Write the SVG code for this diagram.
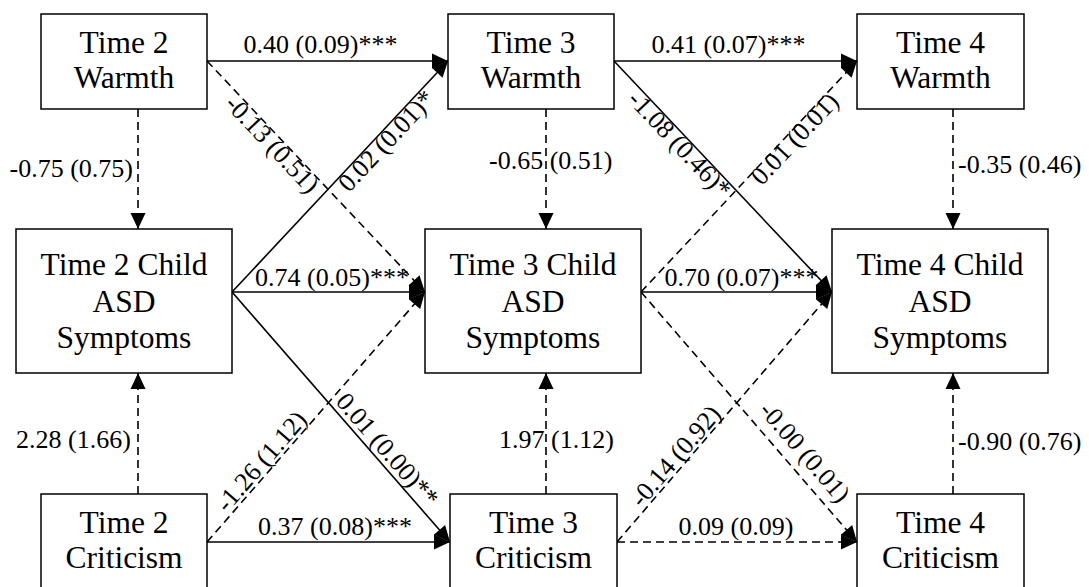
<svg xmlns="http://www.w3.org/2000/svg" width="1089" height="587" viewBox="0 0 1089 587">
<style>
.box{fill:#fff;stroke:#000;stroke-width:1.5}
.nt{font-family:"Liberation Serif","Times New Roman",serif;font-size:31.5px;fill:#000;text-anchor:middle}
.lb{font-family:"Liberation Serif","Times New Roman",serif;font-size:26px;fill:#000}
.c{text-anchor:middle}
.e{text-anchor:end}
.s{fill:none;stroke:#000;stroke-width:1.6;marker-end:url(#ah)}
.d{fill:none;stroke:#000;stroke-width:1.6;stroke-dasharray:8 5;marker-end:url(#ah)}
</style>
<defs>
<marker id="ah" markerUnits="userSpaceOnUse" markerWidth="17" markerHeight="16" refX="16" refY="8" orient="auto" overflow="visible">
<path d="M0,0.5 L16,8 L0,15.5 z" fill="#000"/>
</marker>
</defs>
<rect width="1089" height="587" fill="#fff"/>
<g id="connectors">
<line class="s" x1="207" y1="61" x2="448" y2="61"/>
<line class="d" x1="207" y1="61" x2="425" y2="292"/>
<line class="s" x1="232" y1="292" x2="448" y2="61"/>
<line class="s" x1="232" y1="292" x2="425" y2="292"/>
<line class="s" x1="232" y1="292" x2="450" y2="542"/>
<line class="d" x1="207" y1="542" x2="425" y2="292"/>
<line class="s" x1="207" y1="542" x2="450" y2="542"/>
<line class="s" x1="614" y1="61" x2="857" y2="61"/>
<line class="s" x1="614" y1="61" x2="832" y2="292"/>
<line class="d" x1="641" y1="292" x2="857" y2="61"/>
<line class="s" x1="641" y1="292" x2="832" y2="292"/>
<line class="d" x1="641" y1="292" x2="857" y2="542"/>
<line class="d" x1="617" y1="542" x2="832" y2="292"/>
<line class="d" x1="617" y1="542" x2="857" y2="542"/>
<line class="d" x1="138" y1="109" x2="138" y2="229"/>
<line class="d" x1="546" y1="109" x2="546" y2="229"/>
<line class="d" x1="953" y1="109" x2="953" y2="229"/>
<line class="d" x1="138" y1="494" x2="138" y2="373"/>
<line class="d" x1="546" y1="494" x2="546" y2="373"/>
<line class="d" x1="953" y1="494" x2="953" y2="373"/>
<text class="lb c" x="320.5" y="53">0.40 (0.09)***</text>
<text class="lb c" x="728.5" y="53">0.41 (0.07)***</text>
<text class="lb c" x="332" y="286">0.74 (0.05)***</text>
<text class="lb c" x="741.5" y="286">0.70 (0.07)***</text>
<text class="lb c" x="335" y="535">0.37 (0.08)***</text>
<text class="lb c" x="736" y="535">0.09 (0.09)</text>
<text class="lb e" x="133" y="177">-0.75 (0.75)</text>
<text class="lb" x="489" y="169">-0.65 (0.51)</text>
<text class="lb" x="958" y="173">-0.35 (0.46)</text>
<text class="lb" x="16" y="448">2.28 (1.66)</text>
<text class="lb" x="499" y="448">1.97 (1.12)</text>
<text class="lb" x="958" y="450">-0.90 (0.76)</text>
<text class="lb c" transform="translate(266,150) rotate(46.66)">-0.13 (0.51)</text>
<text class="lb c" transform="translate(392.6,146.6) rotate(-46.92)">0.02 (0.01)*</text>
<text class="lb c" transform="translate(673.4,150.1) rotate(46.66)">-1.08 (0.46)*</text>
<text class="lb c" transform="translate(800.9,144.5) rotate(-46.92)">0.01 (0.01)</text>
<text class="lb c" transform="translate(267.7,467) rotate(-48.92)">-1.26 (1.12)</text>
<text class="lb c" transform="translate(381,455.3) rotate(48.92)">0.01 (0.00)**</text>
<text class="lb c" transform="translate(682,461.6) rotate(-49.3)">-0.14 (0.92)</text>
<text class="lb c" transform="translate(798.4,457.6) rotate(49.18)">-0.00 (0.01)</text>
</g>
<g id="t2w"><rect class="box" x="41" y="14" width="166" height="95"/><text class="nt" x="124" y="53">Time 2</text><text class="nt" x="124" y="88">Warmth</text></g>
<g id="t3w"><rect class="box" x="448" y="14" width="166" height="95"/><text class="nt" x="531" y="53">Time 3</text><text class="nt" x="531" y="88">Warmth</text></g>
<g id="t4w"><rect class="box" x="857" y="14" width="167" height="95"/><text class="nt" x="940.5" y="53">Time 4</text><text class="nt" x="940.5" y="88">Warmth</text></g>
<g id="t2c"><rect class="box" x="16" y="229" width="216" height="144"/><text class="nt" x="124" y="275">Time 2 Child</text><text class="nt" x="124" y="312">ASD</text><text class="nt" x="124" y="348">Symptoms</text></g>
<g id="t3c"><rect class="box" x="425" y="229" width="216" height="144"/><text class="nt" x="533" y="275">Time 3 Child</text><text class="nt" x="533" y="312">ASD</text><text class="nt" x="533" y="348">Symptoms</text></g>
<g id="t4c"><rect class="box" x="832" y="229" width="216" height="144"/><text class="nt" x="940" y="275">Time 4 Child</text><text class="nt" x="940" y="312">ASD</text><text class="nt" x="940" y="348">Symptoms</text></g>
<g id="t2k"><rect class="box" x="41" y="494" width="166" height="95"/><text class="nt" x="124" y="533">Time 2</text><text class="nt" x="124" y="568">Criticism</text></g>
<g id="t3k"><rect class="box" x="450" y="494" width="167" height="95"/><text class="nt" x="533.5" y="533">Time 3</text><text class="nt" x="533.5" y="568">Criticism</text></g>
<g id="t4k"><rect class="box" x="857" y="494" width="167" height="95"/><text class="nt" x="940.5" y="533">Time 4</text><text class="nt" x="940.5" y="568">Criticism</text></g>
</svg>
